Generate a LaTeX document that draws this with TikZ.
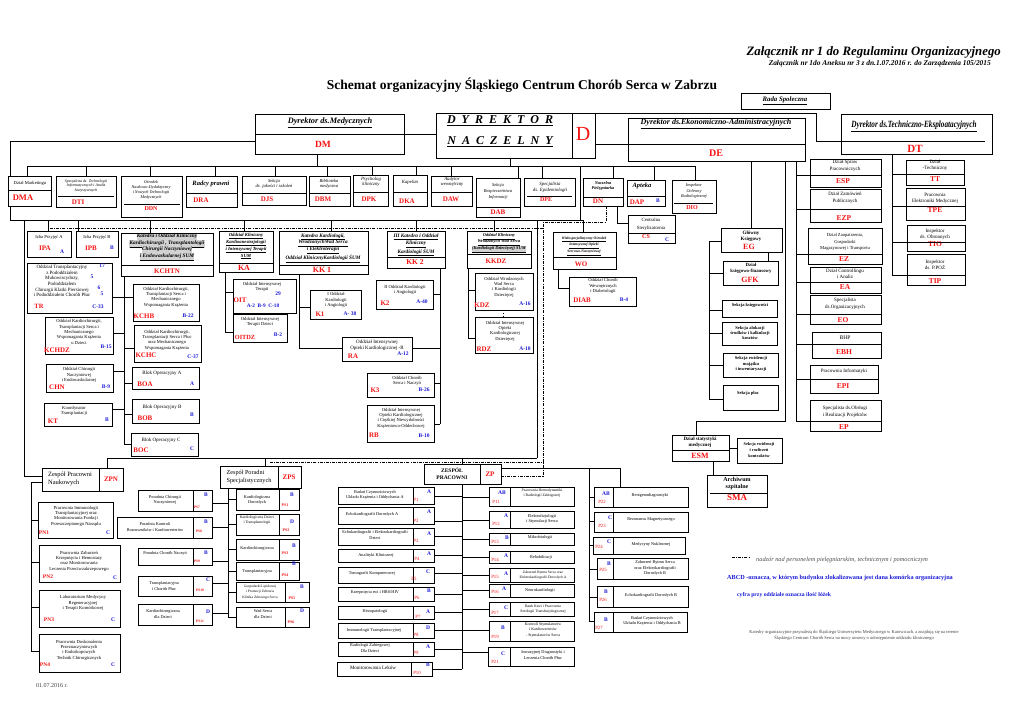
\documentclass[tikz,border=0pt]{standalone}
\usepackage{fontspec}
\usepackage{graphicx}
\setmainfont{Liberation Serif}
\definecolor{cred}{RGB}{245,20,20}
\definecolor{cblue}{RGB}{25,25,215}
\newcounter{tn}
\newcommand\fs[2]{\fontsize{#1}{#2}\selectfont}
\newcommand\hlbox[1]{{\setlength{\fboxsep}{0.3pt}\colorbox{gray!35}{#1}}}
\newcommand\B[5]{\pgfmathsetmacro\bw{#4-#2}\pgfmathsetmacro\bh{#5-#3}\node[bx,minimum width=\bw pt,minimum height=\bh pt,anchor=north west] (#1) at (#2,#3) {};}
\newcommand\T[3][]{\stepcounter{tn}\node[txt,#1] (t\arabic{tn}) at (#2) {#3};}
\newcommand\R[3][]{\T[rc,#1]{#2}{#3}}
\newcommand\U[3][]{\T[bc,#1]{#2}{#3}}
\newcommand\tie[3]{\draw[ln] (#2,#3) -- (#1 |- #2,#3);}
\newcommand\drop[3]{\draw[ln] (#2,#3) -- (#2,0 |- #1.north);}
\newcommand\dv[2]{\draw[ln] (#1.west |- 0,#2) -- (#1.east |- 0,#2);}
\newcommand\vd[2]{\draw[ln] (#2,0 |- #1.north) -- (#2,0 |- #1.south);}
\begin{document}
\begin{tikzpicture}[x=1pt,y=-1pt,
 bx/.style={draw,line width=0.9pt,fill=white,inner sep=0pt,outer sep=0pt},
 ln/.style={line width=0.7pt},
 dd/.style={line width=0.7pt,dash pattern=on 3pt off 1.2pt on 0.8pt off 1.2pt},
 txt/.style={inner sep=0pt,align=center,font=\fs{4.6}{5.4}},
 rc/.style={text=cred,font=\bfseries\fs{7}{8}},
 bc/.style={text=cblue,font=\bfseries\fs{5.5}{6}},
 pc/.style={text=cred,font=\fs{4.8}{5}},
 hl/.style={fill=gray!35,inner sep=0.3pt}]
\fill[white] (0,0) rectangle (1024,724);
\useasboundingbox (0,0) rectangle (1024,724);

% ================= HEADER
\T[font=\bfseries\itshape\fs{12.8}{14},anchor=east]{1001,52}{Załącznik nr 1 do Regulaminu Organizacyjnego}
\T[font=\bfseries\itshape\fs{7.4}{8},anchor=east]{991,64}{Załącznik nr 1do Aneksu nr 3 z dn.1.07.2016 r. do Zarządzenia 105/2015}
\T[font=\bfseries\fs{13.5}{15}]{522,85}{Schemat organizacyjny Śląskiego Centrum Chorób Serca w Zabrzu}
\B{rada}{741}{93}{830}{109}
\T[font=\bfseries\itshape\fs{6.8}{7}]{785,101}{\underline{Rada Społeczna}}

% ================= BACKGROUND CONNECTORS
\draw[ln] (255,141) -- (10,141) -- (10,220) -- (583,220);
\draw[ln] (580,166) -- (580,220);
\draw[ln] (27,166) -- (696,166);
\draw[ln] (24,220) -- (24,476) -- (42,476);
\draw[dd] (50,228) -- (543,228);
\draw[dd] (606,206) -- (606,222) -- (543,222) -- (543,476) -- (501,476);
\draw[dd] (270,462) -- (543,462);
\draw[ln] (537,220) -- (537,458);
\draw[ln] (107,458) -- (537,458);
\draw[ln] (796,161) -- (796,421);
\draw[ln] (892,154) -- (892,275);

% ================= DIRECTORS
\B{dm}{255}{114}{404}{154} \dv{dm}{134}
\T[font=\bfseries\itshape\fs{8.3}{9}]{330,123}{\underline{Dyrektor ds.Medycznych}}
\R[font=\bfseries\fs{9.5}{10}]{323,144}{DM}
\B{dyr}{436}{113}{572}{158}
\B{dcell}{572}{113}{595}{158}
\T[font=\bfseries\itshape\fs{12}{13}]{500,121}{\underline{D\hspace{6pt}Y\hspace{6pt}R\hspace{6pt}E\hspace{6pt}K\hspace{6pt}T\hspace{6pt}O\hspace{6pt}R}}
\T[font=\bfseries\itshape\fs{12}{13}]{500,142}{\underline{N\hspace{6pt}A\hspace{6pt}C\hspace{6pt}Z\hspace{6pt}E\hspace{6pt}L\hspace{6pt}N\hspace{6pt}Y}}
\R[font=\fs{20}{22}]{583,134}{D}
\B{de}{628}{118}{805}{161}
\draw[ln] (dcell.east |- 0,144) -- (de.east |- 0,144);
\T[font=\bfseries\itshape\fs{8}{9}]{716,124}{\underline{Dyrektor ds.Ekonomiczno-Administracyjnych}}
\R[font=\bfseries\fs{10}{11}]{716,153}{DE}
\B{dt}{841}{114}{992}{154}
\draw[ln] (dcell.north east) -- (816,113) -- (816,141) -- (985,141);
\T[font=\bfseries\itshape\fs{9.5}{10}]{914,126}{\underline{\scalebox{0.76}[1]{Dyrektor ds.Techniczno-Eksploatacyjnych}}}
\R[font=\bfseries\fs{11}{12}]{915,149}{DT}
\draw[ln] (dm.east |- 0,134) -- (dyr.west |- 0,134);
\draw[ln] (317,154) -- (317,166);
\draw[ln] (510,158) -- (510,166);

% ================= STAFF ROW
\B{dma}{8}{176}{51}{206} \dv{dma}{190}
\T{30,183}{Dział Marketingu}
\R[font=\bfseries\fs{8.5}{9}]{23,198}{DMA}
\B{dti}{56}{176}{116}{207} \draw[ln] (58,196)--(114,196);
\T[font=\itshape\fs{3.9}{4.6}]{86,186}{Specjalista ds. Technologii\\Informatycznych i Analiz\\Statystycznych}
\R{78,202}{DTI}
\B{ddn}{121}{176}{182}{217} \draw[ln] (124,204)--(180,204);
\T[font=\itshape\fs{4.2}{5.2}]{151,190}{Ośrodek\\Naukowo-Dydaktyczny\\i Nowych Technologii\\Medycznych}
\R[font=\bfseries\fs{6}{7}]{151,209}{DDN}
\B{dra}{186}{176}{237}{207} \dv{dra}{193}
\T[font=\bfseries\itshape\fs{6.5}{7}]{211,184}{Radcy prawni}
\R{201,200}{DRA}
\B{djs}{242}{176}{306}{205} \dv{djs}{193}
\T[font=\itshape\fs{4.6}{5.4}]{274,184}{Sekcja\\ds. jakości i szkoleń}
\R{267,199}{DJS}
\B{dbm}{309}{176}{350}{206} \dv{dbm}{193}
\T[font=\itshape\fs{4.6}{5.4}]{329,184}{Biblioteka\\medyczna}
\R{323,199}{DBM}
\B{dpk}{353}{175}{388}{206} \dv{dpk}{192}
\T[font=\itshape\fs{4.8}{5.6}]{371,182}{Psycholog\\kliniczny}
\R{369,199}{DPK}
\B{dka}{393}{175}{427}{206} \dv{dka}{192}
\T[font=\itshape\fs{4.8}{5.6}]{410,182}{Kapelan}
\R{407,201}{DKA}
\B{daw}{431}{176}{472}{206} \dv{daw}{192}
\T[font=\itshape\fs{4.8}{5.6}]{452,182}{Audytor\\wewnętrzny}
\R{451,199}{DAW}
\B{dab}{476}{178}{520}{217} \dv{dab}{207}
\T[font=\itshape\fs{4.5}{6}]{498,191}{Sekcja\\Bezpieczeństwa\\Informacji}
\R{498,212}{DAB}
\B{dpe}{524}{178}{575}{206} \draw[ln] (527,196)--(572,196);
\T[font=\itshape\fs{4.8}{5.8}]{550,187}{Specjalista\\ds. Epidemiologii}
\R[font=\bfseries\fs{6}{7}]{546,200}{DPE}
\B{dn}{583}{178}{623}{206} \dv{dn}{197}
\T[font=\bfseries\itshape\fs{4.3}{5.2}]{603,186}{Naczelna\\Pielęgniarka}
\R{598,201}{DN}
\B{dap}{627}{180}{665}{206} \dv{dap}{196}
\T[font=\bfseries\itshape\fs{6.5}{7}]{642,186}{Apteka}
\R{637,202}{DAP} \U{658,201}{B}
\B{dio}{672}{180}{716}{213} \draw[ln] (674,203)--(713,203);
\T[font=\itshape\fs{4.3}{5.6}]{694,191}{Inspektor\\Ochrony\\Radiologicznej}
\R[font=\bfseries\fs{6}{7}]{692,208}{DIO}
\B{cs}{628}{215}{675}{243} \dv{cs}{233}
\T[font=\fs{4.8}{8}]{651,224}{Centralna\\Sterylizatornia}
\R[font=\bfseries\fs{6}{7}]{646,237}{CS} \U{667,240}{C}
\draw[ln] (617,206) -- (617,223) -- (cs.west |- 0,223);
\drop{dma}{27}{166} \drop{dti}{86}{166} \drop{ddn}{150}{166} \drop{dra}{215}{166}
\drop{djs}{275}{166} \drop{dbm}{327}{166} \drop{dpk}{372}{166} \drop{dka}{416}{166}
\drop{daw}{451}{166} \drop{dab}{518}{166} \drop{dpe}{542}{166} \drop{dn}{613}{166}
\drop{dap}{654}{166} \drop{dio}{695}{166}

% ================= MEDICAL DEPARTMENTS
\B{ipa}{27}{231}{71}{257}
\T{49,237}{Izba Przyjęć A}
\R{45,248}{IPA} \U{62,252}{A}
\B{ipb}{76}{231}{118}{257}
\T{97,237}{Izba Przyjęć B}
\R{91,248}{IPB} \U{112,248}{B}
\B{kchtn}{121}{233}{213}{276} \dv{kchtn}{265}
\T[font=\bfseries\itshape\fs{5.3}{6},hl]{167,237.5}{\underline{Katedra i Oddział Kliniczny}}
\T[font=\bfseries\itshape\fs{5.3}{6},hl]{167,244}{\underline{Kardiochirurgii , Transplantologii}}
\T[font=\bfseries\itshape\fs{5.3}{6},hl]{167,250.5}{\underline{Chirurgii Naczyniowej}}
\T[font=\bfseries\itshape\fs{5.3}{6},hl]{167,257}{\underline{i Endowaskularnej SUM}}
\R{167,271}{KCHTN}
\B{ka}{219}{231}{273}{272} \dv{ka}{263}
\T[font=\bfseries\itshape\fs{4.7}{7}]{246,246}{\underline{Oddział Kliniczny}\\\underline{Kardioanestezjologii}\\\underline{i Intensywnej Terapii}\\\underline{SUM}}
\R[font=\bfseries\fs{8}{9}]{244,268}{KA}
\B{kk1}{279}{231}{368}{274} \dv{kk1}{265}
\T[font=\bfseries\itshape\fs{5.2}{6.8}]{323,248}{\underline{Katedra Kardiologii,}\\\underline{WrodzonychWad Serca}\\\underline{i Elektroterapii}\\\underline{Oddział KlinicznyKardiologii ŚUM}}
\R[font=\bfseries\fs{8}{9}]{322,270}{KK 1}
\B{kk2}{387}{231}{445}{268} \dv{kk2}{257}
\T[font=\bfseries\itshape\fs{5.2}{7}]{416,245}{\underline{III Katedra i Oddział}\\\underline{Kliniczny}\\\underline{Kardiologii ŚUM}}
\R[font=\bfseries\fs{7.5}{8}]{415,262}{KK 2}
\B{kkdz}{467}{231}{531}{268} \dv{kkdz}{254}
\T[font=\bfseries\itshape\fs{4.4}{6.5}]{499,243}{\underline{Oddział  Kliniczny}\\\underline{Wrodzonych Wad Serca}\\\hlbox{\underline{(Kardiologii Dziecięcej) SUM}}}
\R{496,261}{KKDZ}
\B{wo}{553}{232}{616}{269} \dv{wo}{257}
\T[font=\bfseries\itshape\fs{3.7}{6.8}]{584,246}{\underline{Wielospecjalistyczny Ośrodek}\\\underline{Intensywnej Opieki}\\\underline{Sercowo-Naczyniowej}}
\R{581,264}{WO}
\drop{ipa}{48}{220} \drop{ipb}{78}{220} \drop{kchtn}{150}{220} \drop{ka}{244}{220}
\drop{kk1}{331}{220} \drop{kk2}{416}{220} \drop{kkdz}{494}{220} \drop{wo}{583}{220}

% --- KCHTN branch
\draw[ln] (124,276) -- (124,444);
\B{tr}{27}{263}{112}{313}
\T[font=\fs{4.9}{5.6}]{62,281}{Oddział Transplantacyjny\\z Pododdziałem\\Mukowiscydozy,\\Pododdziałem\\Chirurgii Klatki Piersiowej\\i Pododdziałem Chorób Płuc}
\U{102,266}{17} \U{92,277}{5} \U{99,288}{6} \U{102,294}{5}
\R[font=\bfseries\fs{6.5}{7}]{39,306}{TR} \U{98,307}{C-33}
\B{kchb}{133}{284}{199}{321}
\T{166,297}{Oddział Kardiochirurgii,\\Transplantacji Serca i\\Mechanicznego\\Wspomagania Krążenia}
\R{144,316}{KCHB} \U{188,316}{B-22}
\B{kchdz}{45}{317}{113}{354}
\T{79,332}{Oddział Kardiochirurgii,\\Transplantacji Serca i\\Mechanicznego\\Wspomagania Krążenia\\u Dzieci}
\R{57,350}{KCHDZ} \U{106,347}{B-15}
\B{kchc}{134}{325}{201}{362}
\T{167,340}{Oddział Kardiochirurgii,\\Transplantacji Serca i Płuc\\oraz Mechanicznego\\Wspomagania Krążenia}
\R{146,355}{KCHC} \U{193,357}{C-37}
\B{chn}{46}{364}{113}{392}
\T{79,375}{Oddział Chirurgii\\Naczyniowej\\i Endowaskularnej}
\R{57,387}{CHN} \U{106,387}{B-9}
\B{boa}{132}{367}{199}{389}
\T[font=\fs{5}{6}]{162,373}{Blok Operacyjny A}
\R{145,384}{BOA} \U{192,384}{A}
\B{kt}{44}{403}{112}{426}
\T{74,411}{Koordynator\\Transplantacji}
\R{53,421}{KT} \U{107,420}{B}
\B{bob}{132}{399}{199}{423}
\T[font=\fs{5}{6}]{162,407}{Blok Operacyjny B}
\R{145,418}{BOB} \U{192,415}{B}
\B{boc}{131}{433}{198}{456}
\T[font=\fs{5}{6}]{161,440}{Blok Operacyjny C}
\R{141,450}{BOC} \U{192,449}{C}
\tie{tr.east}{124}{297} \tie{kchb.west}{124}{297}
\tie{kchdz.east}{124}{333} \tie{kchc.west}{124}{348}
\tie{chn.east}{124}{371} \tie{boa.west}{124}{383}
\tie{kt.east}{124}{409} \tie{bob.west}{124}{414}
\tie{boc.west}{124}{444}

% --- KA branch
\draw[ln] (225,272) -- (225,332);
\B{oit}{233}{279}{296}{313}
\T{262,287}{Oddział Intensywnej\\Terapii}
\U{278,294}{29}
\R{240,300}{OIT} \U[font=\bfseries\fs{5.3}{6}]{263,306}{A-2\enspace B-9\enspace C-18}
\B{oitdz}{233}{314}{287}{342}
\T{260,322}{Oddział Intensywnej\\Terapii Dzieci}
\R[font=\bfseries\fs{6.3}{7}]{245,337}{OITDZ} \U{278,335}{B-2}
\tie{oit.west}{225}{292} \tie{oitdz.west}{225}{332}

% --- KK1 branch
\draw[ln] (299,274) -- (299,348);
\B{k1}{310}{290}{361}{319}
\T{336,300}{I Oddział\\Kardiologii\\i Angiologii}
\R{320,314}{K1} \U{350,314}{A- 38}
\B{ra}{342}{337}{412}{361}
\T[font=\fs{5}{6}]{377,345}{Oddział Intensywnej\\Opieki Kardiologicznej -R}
\R{353,356}{RA} \U{403,354}{A-12}
\tie{k1.west}{299}{307} \tie{ra.west}{299}{348}

% --- KK2 branch
\draw[ln] (440,268) -- (440,424);
\B{k2}{376}{280}{433}{309}
\T{405,290}{II Oddział Kardiologii\\i Angiologii}
\R{385,303}{K2} \U{422,302}{A-40}
\B{k3}{367}{373}{434}{397}
\T{407,381}{Oddział Chorób\\Serca i Naczyń}
\R{375,390}{K3} \U{424,390}{B-26}
\B{rb}{367}{405}{434}{442}
\T{401,418}{Oddział Intensywnej\\Opieki Kardiologicznej\\i Ciężkiej Niewydolności\\Krążeniowo-Oddechowej}
\R{374,435}{RB} \U{424,436}{B-10}
\tie{k2.east}{440}{294} \tie{ra.east}{440}{348}
\tie{k3.east}{440}{383} \tie{rb.east}{440}{424}

% --- KKDZ branch
\draw[ln] (468,268) -- (468,338);
\B{kdz}{475}{273}{533}{310}
\T{504,287}{Oddział Wrodzonych\\Wad Serca\\i Kardiologii\\Dziecięcej}
\R{482,305}{KDZ} \U{525,304}{A-16}
\B{rdz}{475}{317}{533}{353}
\T{505,331}{Oddział Intensywnej\\Opieki\\Kardiologicznej\\Dziecięcej}
\R{484,349}{RDZ} \U{525,349}{A-10}
\tie{kdz.west}{468}{290} \tie{rdz.west}{468}{338}
\draw[line width=0.8pt,dotted] (kdz.south -| 503,0) -- (rdz.north -| 503,0);

% --- WO branch
\B{diab}{569}{277}{636}{306}
\T{603,286}{Oddział Chorób\\Wewnętrznych\\i Diabetologii}
\R{582,300}{DIAB} \U{624,300}{B-4}
\draw[ln] (558,269) -- (558,288) -- (diab.west |- 0,288);

% ================= ECONOMIC SIDE
\B{eg}{721}{228}{782}{252}
\T[font=\bfseries\fs{5}{6}]{751,236}{Główny\\Księgowy}
\R[font=\bfseries\fs{8}{9}]{749,247}{EG}
\draw[ln] (751,161) -- (eg.north -| 751,0);
\draw[ln] (eg.west |- 0,241) -- (709,241) -- (709,399);
\B{gfk}{723}{261}{778}{285}
\T[font=\bfseries\fs{4.8}{5.8}]{751,268}{Dział\\księgowo-finansowy}
\R[font=\bfseries\fs{8}{9}]{750,280}{GFK}
\draw[ln] (768,252) -- (gfk.north -| 768,0);
\B{ksg}{722}{300}{777}{317}
\T[font=\bfseries\fs{4.5}{5.4}]{750,305}{Sekcja księgowości}
\B{alok}{722}{322}{777}{345}
\T[font=\bfseries\fs{4.5}{5.4}]{750,333}{Sekcja alokacji\\środków i kalkulacji\\kosztów}
\B{ewid}{723}{353}{778}{377}
\T[font=\bfseries\fs{4.5}{5.8}]{751,364}{Sekcja ewidencji\\majątku\\i inwentaryzacji}
\B{placy}{723}{385}{778}{410}
\T[font=\bfseries\fs{4.5}{5.4}]{748,393}{Sekcja płac}
\tie{gfk.west}{709}{273} \tie{ksg.west}{709}{310} \tie{alok.west}{709}{333}
\tie{ewid.west}{709}{365} \tie{placy.west}{709}{399}

\B{esm}{672}{435}{729}{461} \dv{esm}{450}
\T[font=\bfseries\fs{5}{6}]{700,442}{Dział statystyki\\medycznej}
\R[font=\bfseries\fs{8}{9}]{700,456}{ESM}
\draw[ln] (785,161) -- (785,421) -- (696,421) -- (esm.north -| 696,0);
\B{kontr}{737}{438}{782}{463}
\T[font=\bfseries\fs{4.3}{5.6}]{759,450}{Sekcja ewidencji\\i rozliczeń\\kontraktów}
\tie{kontr.west}{729}{448}
\B{sma}{707}{475}{767}{507} \draw[ln] (710,493) -- (767,493);
\T[font=\bfseries\fs{6}{7}]{737,484}{Archiwum\\szpitalne}
\R[font=\bfseries\fs{9}{10}]{737,498}{SMA}
\draw[ln] (713,461) -- (sma.north -| 713,0);

% E column
\B{esp}{810}{159}{881}{187}
\T[font=\fs{5}{6.5}]{845,166}{Dział Spraw\\Pracowniczych}
\R[font=\bfseries\fs{7.5}{8}]{843,181}{ESP}
\B{ezp}{810}{189}{881}{222}
\T[font=\fs{5}{6.5}]{845,198}{Dział  Zamówień\\Publicznych}
\R[font=\bfseries\fs{7.5}{8}]{844,218}{EZP}
\B{ez}{808}{228}{882}{264}
\T[font=\fs{4.6}{6.5}]{845,242}{Dział Zaopatrzenia,\\Gospodarki\\Magazynowej i Transportu}
\R[font=\bfseries\fs{7.5}{8}]{844,259}{EZ}
\B{ea}{810}{267}{881}{293}
\T[font=\fs{5}{6.5}]{845,274}{Dział Controllingu\\i Analiz}
\R[font=\bfseries\fs{7.5}{8}]{845,287}{EA}
\B{eo}{810}{295}{881}{324}
\T[font=\fs{5}{6.5}]{845,304}{Specjalista\\ds.Organizacyjnych}
\R[font=\bfseries\fs{7.5}{8}]{843,320}{EO}
\B{ebh}{812}{332}{881}{358}
\T[font=\fs{5.5}{6}]{845,338}{BHP}
\R[font=\bfseries\fs{7.5}{8}]{844,352}{EBH}
\B{epi}{810}{365}{878}{393}
\T[font=\fs{5}{6}]{844,371}{Pracownia Informatyki}
\R[font=\bfseries\fs{7.5}{8}]{843,386}{EPI}
\B{ep}{810}{400}{881}{431}
\T[font=\fs{5}{6.5}]{845,412}{Specjalista ds.Obsługi\\i Realizacji Projektów}
\R[font=\bfseries\fs{7.5}{8}]{844,427}{EP}
\draw[ln] (796,175) -- (esp.east |- 0,175);
\draw[ln] (796,209) -- (ezp.east |- 0,209);
\draw[ln] (796,254) -- (ez.east |- 0,254);
\draw[ln] (796,282) -- (ea.east |- 0,282);
\draw[ln] (796,314) -- (eo.east |- 0,314);
\draw[ln] (796,344) -- (ebh.east |- 0,344);
\draw[ln] (796,379) -- (epi.east |- 0,379);
\draw[ln] (796,421) -- (ep.east |- 0,421);

% T column
\B{tt}{906}{160}{964}{185}
\T[font=\fs{5}{5.6}]{935,165}{Dział\\-Techniczny}
\R[font=\bfseries\fs{7.5}{8}]{935,179}{TT}
\B{tpe}{906}{188}{965}{220}
\T[font=\fs{5}{6}]{935,198}{Pracownia\\Elektroniki Medycznej}
\R[font=\bfseries\fs{7.5}{8}]{935,210}{TPE}
\B{tio}{907}{225}{965}{251}
\T[font=\fs{5}{6}]{935,234}{Inspektor\\ds. Obronnych}
\R[font=\bfseries\fs{7.5}{8}]{935,244}{TIO}
\B{tip}{907}{254}{965}{285}
\T[font=\fs{5}{6}]{935,265}{Inspektor\\ds. P.POŻ}
\R[font=\bfseries\fs{7.5}{8}]{935,281}{TIP}
\draw[ln] (892,174) -- (tt.east |- 0,174);
\draw[ln] (892,206) -- (tpe.east |- 0,206);
\draw[ln] (892,242) -- (tio.east |- 0,242);
\draw[ln] (892,275) -- (tip.east |- 0,275);

% ================= BOTTOM: ZPN
\B{zpn}{42}{468}{123}{491} \vd{zpn}{99}
\T[font=\fs{6.5}{7.5},align=left]{70,479}{Zespół Pracowni\\Naukowych}
\R{111,479}{ZPN}
\drop{zpn}{107}{458}
\draw[ln] (31,482) -- (31,651); \tie{zpn.west}{31}{482}
\B{pn1}{38}{502}{113}{538}
\T{76,516}{Pracownia Immunologii\\Transplantacyjnej oraz\\Monitorowania Funkcji\\Przeszczepionego Narządu}
\R[font=\bfseries\fs{5.5}{6}]{44,533}{PN1} \U{108,533}{C}
\B{pn2}{39}{545}{120}{582}
\T{79,561}{Pracownia Zaburzeń\\Krzepnięcia  i Hemostazy\\oraz Monitorowania\\Leczenia Przeciwzakrzepowego}
\R[font=\bfseries\fs{5.5}{6}]{48,577}{PN2} \U{115,578}{C}
\B{pn3}{39}{590}{120}{627}
\T{83,603}{Laboratorium Medycyny\\Regeneracyjnej\\i Terapii Komórkowej}
\R[font=\bfseries\fs{5.5}{6}]{49,620}{PN3} \U{113,620}{C}
\B{pn4}{39}{634}{120}{672}
\T{79,650}{Pracownia Doskonalenia\\Przeznaczyniowych\\i Endoskopowych\\Technik Chirurgicznych}
\R[font=\bfseries\fs{5.5}{6}]{45,665}{PN4} \U{113,665}{C}
\tie{pn1.west}{31}{520} \tie{pn2.west}{31}{562} \tie{pn3.west}{31}{607} \tie{pn4.west}{31}{651}

% ================= ZPS
\B{zps}{220}{466}{301}{488} \vd{zps}{278}
\T[font=\fs{6.2}{7.5},align=left]{249,477}{Zespół Poradni\\Specjalistycznych}
\R{289,477}{ZPS}
\drop{zps}{265}{458}
\draw[ln] (228,488) -- (228,617);
\newcommand\PS[9]{\B{#1}{#2}{#3}{#4}{#5}\vd{#1}{#6}\T[font=\fs{4.3}{5.2}]{#7}{#8}#9}
\PS{ps7}{138}{490}{212}{511}{193}{165,500}{Poradnia Chirurgii\\Naczyniowej}{\U{206,495}{B}\R[font=\bfseries\fs{3.6}{4}]{197,507}{PS7}}
\PS{ps8}{117}{517}{212}{538}{193}{155,527}{Poradnia Kontroli\\Rozruszników i Kardiowerterów}{\U{206,522}{B}\R[font=\bfseries\fs{3.6}{4}]{199,531}{PS8}}
\PS{ps9}{138}{548}{212}{565}{193}{165,553}{Poradnia Chorób Naczyń}{\U{206,553}{B}\R[font=\bfseries\fs{3.6}{4}]{197,561}{PS9}}
\PS{ps10}{138}{576}{212}{596}{193}{164,586}{Transplantacyjna\\i Chorób Płuc}{\U{208,580}{C}\R[font=\bfseries\fs{3.6}{4}]{200,590}{PS10}}
\PS{ps11}{138}{604}{212}{625}{193}{163,614}{Kardiochirurgiczna\\dla Dzieci}{\U{208,612}{D}\R[font=\bfseries\fs{3.6}{4}]{200,621}{PS11}}
\PS{ps1}{236}{489}{299}{510}{279}{257,500}{Kardiologiczna\\Dorosłych}{\U{292,495}{B}\R[font=\bfseries\fs{4}{4}]{285,505}{PS1}}
\PS{ps2}{236}{514}{299}{535}{279}{257,520}{\fs{3.8}{4.6}Kardiologiczna Dzieci\\\fs{3.8}{4.6}i Transplantologii}{\U{292,522}{D}\R[font=\bfseries\fs{4}{4}]{286,530}{PS2}}
\PS{ps3}{236}{539}{299}{560}{279}{257,548}{Kardiochirurgiczna}{\U{294,546}{B}\R[font=\bfseries\fs{4}{4}]{285,553}{PS3}}
\PS{ps4}{236}{562}{299}{580}{279}{257,571}{Transplantacyjna}{\U{294,564}{B}\R[font=\bfseries\fs{4}{4}]{285,575}{PS4}}
\PS{ps5}{236}{582}{309}{602}{285}{260,592}{\fs{3.6}{4.6}Gospodarki Lipidowej\\\fs{3.6}{4.6}i Promocji Zdrowia\\\fs{3.6}{4.6}Klinika Zdrowego Serca}{\U{302,587}{B}\R[font=\bfseries\fs{4}{4}]{292,598}{PS5}}
\PS{ps6}{236}{607}{309}{627}{285}{263,614}{Wad Serca\\dla Dzieci}{\U{302,611}{D}\R[font=\bfseries\fs{4}{4}]{291,622}{PS6}}
\tie{ps7.east}{228}{503} \tie{ps8.east}{228}{527} \tie{ps9.east}{228}{561}
\tie{ps10.east}{228}{583} \tie{ps11.east}{228}{613}
\tie{ps1.west}{228}{499} \tie{ps2.west}{228}{524} \tie{ps3.west}{228}{549}
\tie{ps4.west}{228}{571} \tie{ps5.west}{228}{592} \tie{ps6.west}{228}{617}

% ================= ZP
\B{zp}{424}{464}{501}{484} \vd{zp}{480}
\T[font=\bfseries\fs{5.5}{6.8}]{452,474}{ZESPÓŁ\\PRACOWNI}
\R{490,474}{ZP}
\drop{zp}{462}{458}
\draw[ln] (462,484) -- (462,669);
\newcommand\PL[9]{\B{#1}{#2}{#3}{#4}{#5}\vd{#1}{#6}\T[font=\fs{4.3}{5.4}]{#7}{#8}#9}
\PL{p1}{338}{487}{434}{504}{413}{375,495}{Badań Czynnościowych\\Układu Krążenia i Oddychania A}{\U{429,492}{A}\T[pc]{416,500}{P1}}
\PL{p2}{338}{507}{434}{524}{413}{372,514}{Echokardiografii  Dorosłych A}{\U{429,512}{A}\T[pc]{416,521}{P2}}
\PL{p3}{338}{528}{434}{545}{413}{375,535}{Echokardiografii i Elektrokardiografii\\Dzieci}{\U{429,534}{A}\T[pc]{416,541}{P3}}
\PL{p4}{338}{549}{434}{562}{413}{376,555}{Analityki Klinicznej}{\U{429,554}{A}\T[pc]{417,559}{P4}}
\PL{p5}{338}{567}{434}{583}{413}{372,573}{Tomografii  Komputerowej}{\U{428,572}{C}\T[pc]{414,579}{P5}}
\PL{p6}{338}{587}{434}{601}{413}{375,593}{Krzepnięcia rwi i HBS/HIV}{\U{429,591}{B}\T[pc]{417,598}{P6}}
\PL{p7}{338}{606}{434}{619}{413}{375,611}{Histopatologii}{\U{428,612}{A}\T[pc]{418,617}{P7}}
\PL{p8}{338}{623}{434}{638}{413}{374,630}{Immunologii Transplantacyjnej}{\U{428,628}{D}\T[pc]{416,635}{P8}}
\PL{p9}{338}{642}{434}{656}{413}{370,648}{Radiologii Zabiegowej\\Dla Dzieci}{\U{428,647}{A}\T[pc]{416,653}{P9}}
\PL{p10}{337}{662}{432}{676}{411}{373,668}{\fs{5}{6}Monitorowania Leków}{\U{428,665}{B}\T[pc]{417,673}{P10}}
\tie{p1.east}{462}{496} \tie{p2.east}{462}{521} \tie{p3.east}{462}{536}
\tie{p4.east}{462}{555} \tie{p5.east}{462}{573} \tie{p6.east}{462}{594}
\tie{p7.east}{462}{612} \tie{p8.east}{462}{630} \tie{p9.east}{462}{649}
\tie{p10.east}{462}{669}
\PL{p11}{489}{487}{574}{506}{510}{542,493}{\fs{3.8}{4.8}Pracownia Hemodynamiki\\\fs{3.8}{4.8}i Radiologii Zabiegowej}{\U{502,493}{AB}\T[pc]{496,502}{P11}}
\PL{p12}{489}{511}{574}{528}{510}{542,519}{Elektrofizjologii\\i Stymulacji Serca}{\U{506,516}{A}\T[pc]{496,524}{P12}}
\PL{p13}{489}{533}{574}{545}{510}{540,537}{Mikrobiologii}{\U{507,538}{B}\T[pc]{495,542}{P13}}
\PL{p14}{489}{551}{574}{563}{510}{541,557}{Rehabilitacji}{\U{506,556}{A}\T[pc]{495,560}{P14}}
\PL{p15}{489}{568}{574}{582}{510}{543,575}{\fs{3.6}{4.7}Zaburzeń Rytmu Serca oraz\\\fs{3.6}{4.7}Elektrokardiografii Dorosłych A}{\U{506,574}{A}\T[pc]{495,577}{P15}}
\PL{p16}{489}{584}{574}{597}{510}{540,590}{Neurokardiologii}{\U{504,589}{A}\T[pc]{495,592}{P16}}
\PL{p17}{489}{602}{574}{616}{510}{543,609}{\fs{3.8}{4.8}Bank Krwi i Pracownia\\\fs{3.8}{4.8}Serologii Transfuzjologicznej}{\U{506,608}{C}\T[pc]{495,613}{P17}}
\PL{p19}{489}{621}{574}{641}{510}{543,630}{\fs{3.9}{4.8}Kontroli  Stymulatorów\\\fs{3.9}{4.8}i Kardiowerterów\\\fs{3.9}{4.8}- Stymulatorów Serca}{\U{503,628}{B}\T[pc]{495,637}{P19}}
\PL{p21}{488}{647}{574}{666}{510}{543,655}{Inwazyjnej Diagnostyki i\\Leczenia Chorób Płuc}{\U{503,654}{C}\T[pc]{495,662}{P21}}
\tie{p11.west}{462}{497} \tie{p12.west}{462}{520} \tie{p13.west}{462}{539}
\tie{p14.west}{462}{557} \tie{p15.west}{462}{575} \tie{p16.west}{462}{590}
\tie{p17.west}{462}{609} \tie{p19.west}{462}{630} \tie{p21.west}{462}{652}

\draw[ln] (zp.east |- 0,468) -- (620,468);
\draw[ln] (589,468) -- (589,621);
\PL{p22}{594}{487}{688}{507}{613}{650,495}{Rentgenodiagnostyki}{\U{606,494}{AB}\T[pc]{602,502}{P22}}
\PL{p23}{594}{512}{688}{532}{613}{651,520}{Rezonansu Magnetycznego}{\U{610,518}{C}\T[pc]{602,526}{P23}}
\PL{p24}{593}{537}{685}{554}{613}{651,544}{Medycyny Nuklearnej}{\U{609,542}{C}\T[pc]{599,547}{P24}}
\PL{p25}{597}{558}{688}{579}{613}{655,568}{Zaburzeń Rytmu Serca\\oraz Elektrokardiografii\\Dorosłych B}{\U{609,564}{B}\T[pc]{603,570}{P25}}
\PL{p26}{597}{586}{688}{607}{613}{651,595}{Echokardiografii Dorosłych B}{\U{606,592}{B}\T[pc]{603,600}{P26}}
\PL{p27}{594}{612}{687}{632}{613}{652,621}{Badań Czynnościowych\\Układu Krążenia i Oddychania B}{\U{606,620}{B}\T[pc]{599,628}{P27}}
\draw[ln] (620,468) -- (p22.north -| 620,0);
\tie{p22.west}{589}{497} \tie{p23.west}{589}{521} \tie{p24.west}{589}{545}
\tie{p25.west}{589}{569} \tie{p26.west}{589}{597} \tie{p27.west}{589}{621}

% ================= LEGEND
\coordinate (lg1) at (732,557); \coordinate (lg2) at (750,557);
\draw[dd] (lg1) -- (lg2);
\T[font=\itshape\fs{6.3}{7},text=black!70,anchor=west]{756,560}{nadzór nad personelem  pielęgniarskim, technicznym i pomocniczym}
\T[font=\bfseries\fs{6.2}{7},text=cblue,anchor=west]{727,578}{ABCD -oznacza, w którym  budynku zlokalizowana jest dana komórka organizacyjna}
\T[font=\bfseries\fs{5.7}{7},text=cblue,anchor=west]{737,595}{cyfra przy oddziale oznacza ilość łóżek}
\T[font=\fs{4.5}{6},text=black!75]{854,635}{Katedry organizacyjnie przynależą do Śląskiego Uniwersytetu Medycznego w Katowicach, a znajdują się na terenie\\Śląskiego Centrum Chorób Serca na mocy umowy o udostępnienie oddziału klinicznego}
\T[font=\fs{6}{7},text=black!75]{52,686}{01.07.2016 r.}
\end{tikzpicture}
\end{document}
